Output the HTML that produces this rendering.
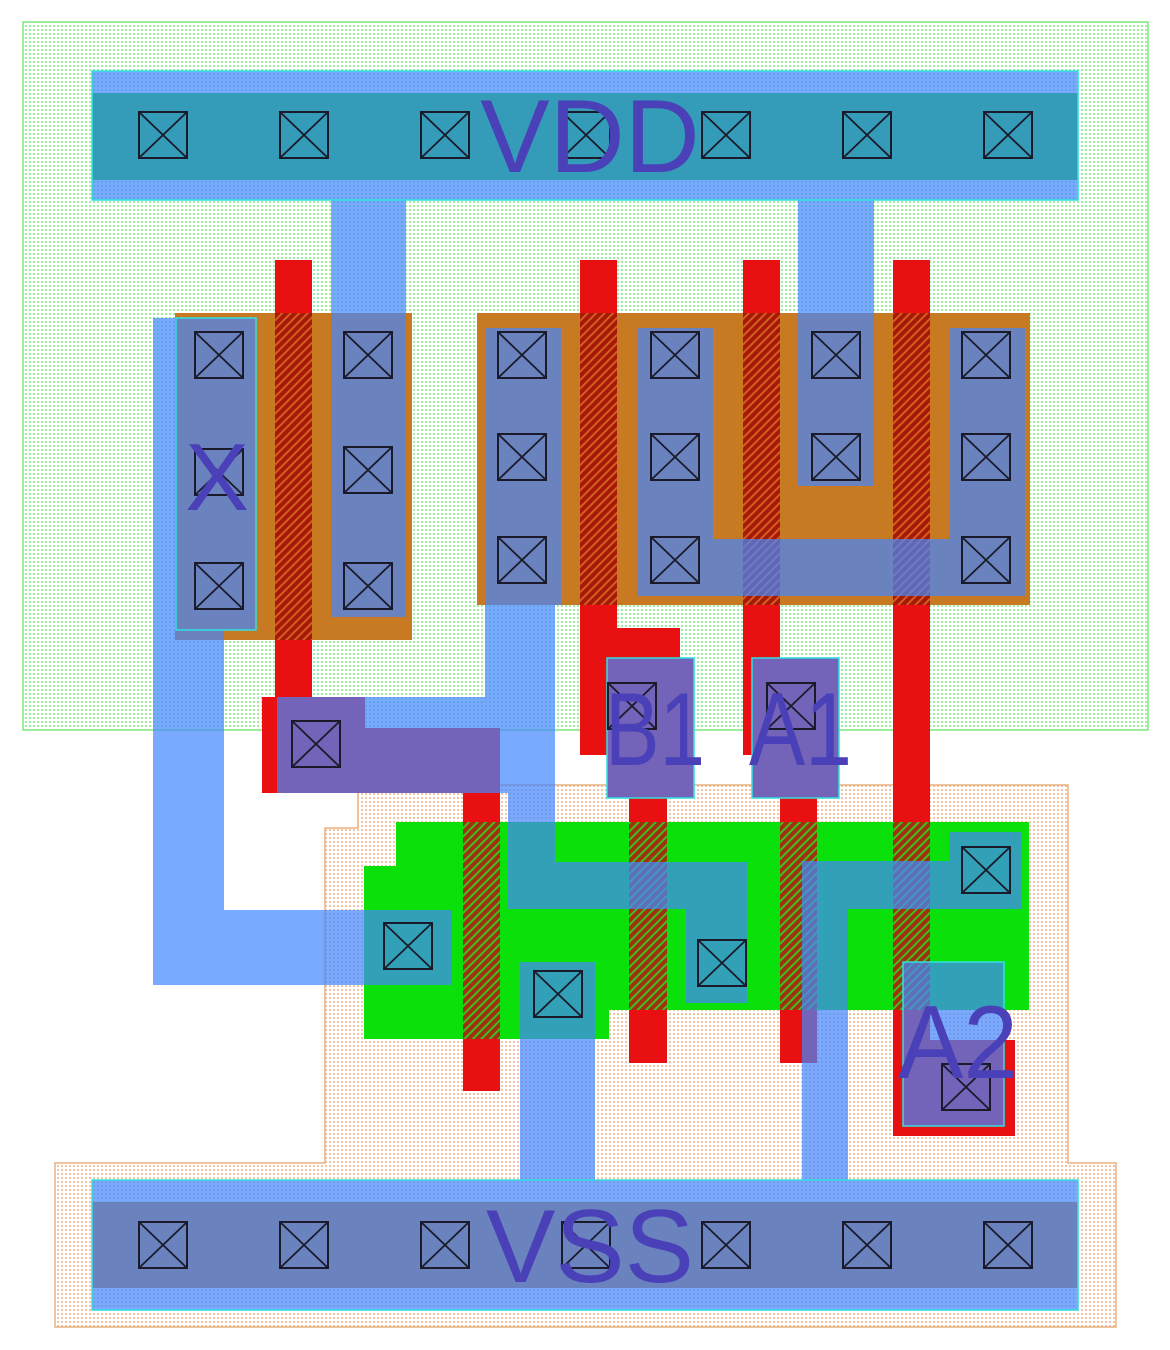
<!DOCTYPE html>
<html><head><meta charset="utf-8"><style>html,body{margin:0;padding:0;background:#fff}svg{display:block}</style></head>
<body>
<svg width="1170" height="1350" viewBox="0 0 1170 1350" xmlns="http://www.w3.org/2000/svg">
<defs>
<pattern id="nw" width="4" height="4" patternUnits="userSpaceOnUse"><rect width="4" height="4" fill="#fff"/><circle cx="2" cy="2" r="1" fill="#80e680"/></pattern>
<pattern id="pw" width="4" height="4" patternUnits="userSpaceOnUse"><rect width="4" height="4" fill="#fff"/><circle cx="2" cy="2" r="1" fill="#eeb088"/></pattern>
<pattern id="hatchP" width="6" height="6" patternUnits="userSpaceOnUse" patternTransform="rotate(45)"><rect width="6" height="6" fill="#a81808"/><rect width="2" height="6" fill="#d06020"/></pattern>
<pattern id="hatchN" width="6" height="6" patternUnits="userSpaceOnUse" patternTransform="rotate(45)"><rect width="6" height="6" fill="#a03010"/><rect width="2" height="6" fill="#40c020"/></pattern>
<g id="ct"><rect x="-24" y="-23" width="48" height="46" fill="none" stroke="#1a1a2a" stroke-width="2"/><path d="M-24,-23L24,23M24,-23L-24,23" stroke="#1a1a2a" stroke-width="1.8"/></g>
</defs>

<rect x="23" y="22" width="1125" height="708" fill="url(#nw)" stroke="#7ee87e" stroke-width="1.5"/>
<polygon points="358,785 1068,785 1068,1163 1116,1163 1116,1327 55,1327 55,1163 325,1163 325,828 358,828" fill="url(#pw)" stroke="#eab080" stroke-width="1.5"/>

<rect x="92" y="93" width="986" height="87" fill="#10d010"/>
<rect x="92" y="1202" width="986" height="86" fill="#c87a22"/>
<rect x="175" y="313" width="237" height="327" fill="#c87a22"/>
<rect x="477" y="313" width="553" height="292" fill="#c87a22"/>
<polygon points="396,822 1029,822 1029,1010 609,1010 609,1039 364,1039 364,866 396,866" fill="#0ae00a"/>

<g fill="#e81010">
<rect x="275" y="260" width="37" height="440"/>
<polygon points="262,697 365,697 365,728 500,728 500,1091 463,1091 463,793 262,793"/>
<rect x="580" y="260" width="37" height="495"/>
<rect x="580" y="628" width="100" height="127"/>
<rect x="607" y="658" width="87" height="140"/>
<rect x="629" y="790" width="38" height="273"/>
<rect x="743" y="260" width="37" height="495"/>
<rect x="752" y="658" width="87" height="140"/>
<rect x="780" y="790" width="37" height="273"/>
<rect x="893" y="260" width="37" height="790"/>
<rect x="893" y="1040" width="122" height="96"/>
</g>
<rect x="275" y="313" width="37" height="327" fill="url(#hatchP)"/>
<rect x="580" y="313" width="37" height="292" fill="url(#hatchP)"/>
<rect x="743" y="313" width="37" height="292" fill="url(#hatchP)"/>
<rect x="893" y="313" width="37" height="292" fill="url(#hatchP)"/>
<rect x="463" y="822" width="37" height="217" fill="url(#hatchN)"/>
<rect x="629" y="822" width="38" height="188" fill="url(#hatchN)"/>
<rect x="780" y="822" width="37" height="188" fill="url(#hatchN)"/>
<rect x="893" y="822" width="37" height="188" fill="url(#hatchN)"/>

<g fill="rgb(68,135,255)" fill-opacity="0.71">
<rect x="92" y="71" width="986" height="129"/>
<rect x="92" y="1180" width="986" height="130"/>
<rect x="331" y="200" width="75" height="417"/>
<rect x="798" y="200" width="76" height="286"/>
<polygon points="153,318 256,318 256,630 224,630 224,910 452,910 452,985 153,985"/>
<polygon points="485,328 561,328 561,605 555,605 555,862 747,862 747,1003 686,1003 686,909 508,909 508,793 277,793 277,697 485,697"/>
<rect x="520" y="962" width="75" height="218"/>
<polygon points="637,328 713,328 713,539 949,539 949,328 1025,328 1025,596 637,596"/>
<polygon points="949,832 1021,832 1021,909 848,909 848,1180 802,1180 802,861 949,861"/>
<rect x="607" y="658" width="87" height="140"/>
<rect x="752" y="658" width="87" height="140"/>
<rect x="903" y="962" width="101" height="164"/>
</g>
<g fill="none" stroke="#30e0e0" stroke-width="1.5">
<rect x="92" y="71" width="986" height="129"/>
<rect x="92" y="1180" width="986" height="130"/>
<rect x="176" y="318" width="80" height="312"/>
<rect x="607" y="658" width="87" height="140"/>
<rect x="752" y="658" width="87" height="140"/>
<rect x="903" y="962" width="101" height="164"/>
</g>

<g>
<use href="#ct" x="163" y="135"/><use href="#ct" x="304" y="135"/><use href="#ct" x="445" y="135"/><use href="#ct" x="586" y="135"/><use href="#ct" x="726" y="135"/><use href="#ct" x="867" y="135"/><use href="#ct" x="1008" y="135"/>
<use href="#ct" x="163" y="1245"/><use href="#ct" x="304" y="1245"/><use href="#ct" x="445" y="1245"/><use href="#ct" x="586" y="1245"/><use href="#ct" x="726" y="1245"/><use href="#ct" x="867" y="1245"/><use href="#ct" x="1008" y="1245"/>
<use href="#ct" x="219" y="355"/><use href="#ct" x="219" y="472"/><use href="#ct" x="219" y="586"/>
<use href="#ct" x="368" y="355"/><use href="#ct" x="368" y="470"/><use href="#ct" x="368" y="586"/>
<use href="#ct" x="522" y="355"/><use href="#ct" x="522" y="457"/><use href="#ct" x="522" y="560"/>
<use href="#ct" x="675" y="355"/><use href="#ct" x="675" y="457"/><use href="#ct" x="675" y="560"/>
<use href="#ct" x="836" y="355"/><use href="#ct" x="836" y="457"/>
<use href="#ct" x="986" y="355"/><use href="#ct" x="986" y="457"/><use href="#ct" x="986" y="560"/>
<use href="#ct" x="408" y="946"/><use href="#ct" x="558" y="994"/><use href="#ct" x="722" y="963"/><use href="#ct" x="986" y="870"/>
<use href="#ct" x="316" y="744"/><use href="#ct" x="632" y="706"/><use href="#ct" x="791" y="706"/><use href="#ct" x="966" y="1087"/>
</g>

<g fill="#4a40b8" font-family="Liberation Sans, sans-serif">
<text x="590" y="172" font-size="104" text-anchor="middle">VDD</text>
<text x="590" y="1282" font-size="104" text-anchor="middle">VSS</text>
<text x="217" y="510" font-size="96" text-anchor="middle">X</text>
<text x="605" y="765" font-size="104" textLength="100" lengthAdjust="spacingAndGlyphs">B1</text>
<text x="749" y="765" font-size="104" textLength="103" lengthAdjust="spacingAndGlyphs">A1</text>
<text x="898" y="1078" font-size="104" textLength="120" lengthAdjust="spacingAndGlyphs">A2</text>
</g>
</svg>
</body></html>
